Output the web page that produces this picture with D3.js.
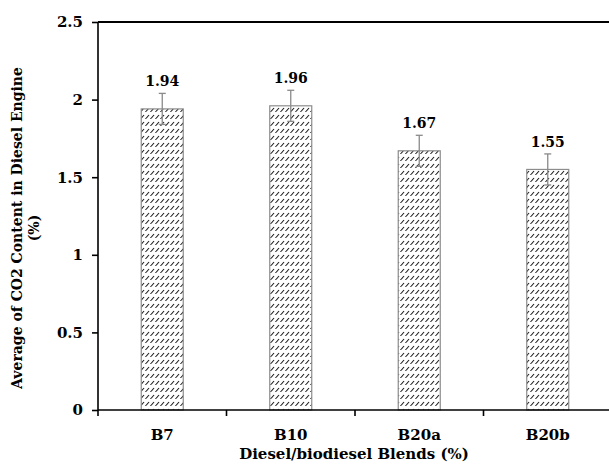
<!DOCTYPE html>
<meta charset="utf-8">
<head>
  <title>CO2 content</title>
</head>
<body style="margin:0">
<style>
text { font-family: "DejaVu Serif", serif; font-weight: bold; fill: #000; }
.tick text { font-size: 15px; }
.axis path, .axis line { stroke: #000; stroke-width: 1.6; }
</style>
<svg width="609" height="468"></svg>
<script src="https://d3js.org/d3.v7.min.js"></script>
<script>

var blends = ["B7", "B10", "B20a", "B20b"];
var co2 = [1.94, 1.96, 1.67, 1.55];
var errs = [0.10, 0.10, 0.10, 0.10];
var yTicks = [0, 0.5, 1, 1.5, 2, 2.5];

var svg = d3.select("svg"),
    plotL = 98, plotR = 612, plotT = 22, plotB = 410;

// dashed upward-diagonal hatch, one row of short slashes every few px
var defs = svg.append("defs");
var pat = defs.append("pattern")
    .attr("id", "hatch")
    .attr("patternUnits", "userSpaceOnUse")
    .attr("x", 0).attr("y", 1)
    .attr("width", 5).attr("height", 7);
pat.append("rect").attr("width", 5).attr("height", 7).attr("fill", "#fff");
pat.append("path")
    .attr("d", "M1,5.5 L4,2")
    .attr("stroke", "#1a1a1a").attr("stroke-width", 1.1);
pat.append("rect")
    .attr("x", 0).attr("y", 5).attr("width", 1).attr("height", 1)
    .attr("fill", "#666");

var x = d3.scaleBand().domain(blends).range([plotL, plotR]);
var y = d3.scaleLinear().domain([0, 2.5]).range([plotB, plotT]);
var barW = 42;

// bars
svg.selectAll(".bar")
    .data(blends)
    .enter().append("rect")
    .attr("class", "bar")
    .attr("x", function(d) { return x(d) + x.bandwidth() / 2 - barW / 2; })
    .attr("y", function(d, i) { return y(co2[i]); })
    .attr("width", barW)
    .attr("height", function(d, i) { return plotB - y(co2[i]); })
    .attr("fill", "url(#hatch)")
    .attr("stroke", "#8c8c8c")
    .attr("stroke-width", 1.2);

// error bars
var eb = svg.selectAll(".err")
    .data(blends)
    .enter().append("g")
    .attr("class", "err")
    .attr("stroke", "#8a8a8a")
    .attr("stroke-width", 1.3);
eb.append("line")
    .attr("x1", function(d) { return x(d) + x.bandwidth() / 2; })
    .attr("x2", function(d) { return x(d) + x.bandwidth() / 2; })
    .attr("y1", function(d, i) { return y(co2[i] + errs[i]); })
    .attr("y2", function(d, i) { return y(co2[i] - errs[i]); });
eb.append("line")
    .attr("x1", function(d) { return x(d) + x.bandwidth() / 2 - 3.5; })
    .attr("x2", function(d) { return x(d) + x.bandwidth() / 2 + 3.5; })
    .attr("y1", function(d, i) { return y(co2[i] + errs[i]); })
    .attr("y2", function(d, i) { return y(co2[i] + errs[i]); });
eb.append("line")
    .attr("x1", function(d) { return x(d) + x.bandwidth() / 2 - 3.5; })
    .attr("x2", function(d) { return x(d) + x.bandwidth() / 2 + 3.5; })
    .attr("y1", function(d, i) { return y(co2[i] - errs[i]); })
    .attr("y2", function(d, i) { return y(co2[i] - errs[i]); });

// value labels
svg.selectAll(".val")
    .data(blends)
    .enter().append("text")
    .attr("class", "val")
    .attr("x", function(d) { return x(d) + x.bandwidth() / 2; })
    .attr("y", function(d, i) { return y(co2[i] + errs[i]) - 7; })
    .attr("text-anchor", "middle")
    .style("font-size", "14px")
    .text(function(d, i) { return co2[i].toFixed(2); });

// top frame line
svg.append("line")
    .attr("x1", plotL).attr("x2", plotR)
    .attr("y1", y(2.5)).attr("y2", y(2.5))
    .attr("stroke", "#000").attr("stroke-width", 1.8);

// axes
var yAxis = svg.append("g")
    .attr("class", "axis")
    .attr("transform", "translate(" + plotL + ",0)")
    .call(d3.axisLeft(y).tickValues(yTicks).tickSize(6).tickPadding(9)
      .tickFormat(function(d) { return d; }));
yAxis.select(".domain").attr("d", "M0," + (plotB + 6) + "V" + plotT);

var xAxis = svg.append("g")
    .attr("class", "axis")
    .attr("transform", "translate(0," + plotB + ")")
    .call(d3.axisBottom(x).tickSize(0).tickPadding(19));
xAxis.select(".domain").attr("d", "M" + plotL + ",0H" + plotR);
xAxis.selectAll(".tick line").remove();
xAxis.selectAll(".bnd")
    .data(blends.slice(1))
    .enter().append("line")
    .attr("x1", function(d) { return x(d); })
    .attr("x2", function(d) { return x(d); })
    .attr("y1", 0).attr("y2", 6);

// titles
svg.append("text")
    .attr("x", (plotL + plotR) / 2 - 1)
    .attr("y", 459)
    .attr("text-anchor", "middle")
    .style("font-size", "15px")
    .text("Diesel/biodiesel Blends (%)");

var yt = svg.append("text")
    .attr("transform", "translate(22,228) rotate(-90)")
    .attr("text-anchor", "middle")
    .style("font-size", "14px");
yt.append("tspan").attr("x", 0).attr("dy", 0).text("Average of CO2 Content in Diesel Engine");
yt.append("tspan").attr("x", 0).attr("dy", 17).text("(%)");

</script>
</body>
</html>
